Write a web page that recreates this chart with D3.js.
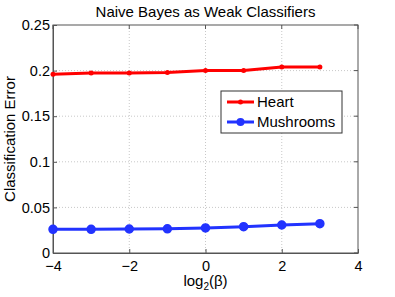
<!DOCTYPE html>
<html>
<head>
<meta charset="utf-8">
<script src="https://cdn.jsdelivr.net/npm/d3@7"></script>
<style>
body { margin: 0; background: #fff; }
text { font-family: "Liberation Sans", Arial, sans-serif; }
</style>
</head>
<body>
<div id="chart-area"></div>
<script>
var betas = [-4, -3, -2, -1, 0, 1, 2, 3];
var heart = [0.196, 0.1975, 0.1975, 0.198, 0.2, 0.2, 0.204, 0.204];
var mushrooms = [0.026, 0.026, 0.0263, 0.0265, 0.0275, 0.0289, 0.0307, 0.0322];
var xTicks = [-4, -2, 0, 2, 4];
var yTicks = [0, 0.05, 0.1, 0.15, 0.2, 0.25];

var margin = {top: 25, right: 37, bottom: 44, left: 53};
var width = 395 - margin.left - margin.right;
var height = 297 - margin.top - margin.bottom;

var svg = d3.select("#chart-area").append("svg")
	.attr("width", 395)
	.attr("height", 297);

var g = svg.append("g")
	.attr("transform", "translate(" + margin.left + ", " + margin.top + ")");

var x = d3.scaleLinear().domain([-4, 4]).range([0, width]);
var y = d3.scaleLinear().domain([0, 0.25]).range([height, 0]);

// grid
g.selectAll(".xgrid").data(xTicks.slice(1, -1)).enter().append("line")
	.attr("x1", (d) => x(d)).attr("x2", (d) => x(d))
	.attr("y1", 0).attr("y2", height)
	.attr("stroke", "#c8c8c8").attr("stroke-dasharray", "1,2");
g.selectAll(".ygrid").data(yTicks.slice(1, -1)).enter().append("line")
	.attr("x1", 0).attr("x2", width)
	.attr("y1", (d) => y(d)).attr("y2", (d) => y(d))
	.attr("stroke", "#c8c8c8").attr("stroke-dasharray", "1,2");

// box
g.append("rect")
	.attr("width", width).attr("height", height)
	.attr("fill", "none").attr("stroke", "#555").attr("stroke-width", 1);

var bottomAxis = d3.axisBottom(x).tickValues(xTicks)
	.tickFormat((d) => d < 0 ? "\u2212" + Math.abs(d) : d)
	.tickSizeInner(-4).tickSizeOuter(0).tickPadding(8);
var gx = g.append("g")
	.attr("transform", "translate(0, " + height + ")")
	.call(bottomAxis);

var leftAxis = d3.axisLeft(y).tickValues(yTicks)
	.tickFormat((d) => d3.format("")(+d.toFixed(2)))
	.tickSizeInner(-4).tickSizeOuter(0).tickPadding(3);
var gy = g.append("g").call(leftAxis);

[gx, gy].forEach((a) => {
	a.select(".domain").attr("stroke", "#555");
	a.selectAll(".tick line").attr("stroke", "#555");
	a.selectAll(".tick text").attr("font-size", "14.5px").attr("fill", "#000")
		.attr("font-family", "Liberation Sans, Arial, sans-serif");
});

// right/top ticks
g.selectAll(".rt").data(yTicks).enter().append("line")
	.attr("x1", width).attr("x2", width - 4)
	.attr("y1", (d) => y(d)).attr("y2", (d) => y(d)).attr("stroke", "#555");
g.selectAll(".tt").data(xTicks).enter().append("line")
	.attr("x1", (d) => x(d)).attr("x2", (d) => x(d))
	.attr("y1", 0).attr("y2", 4).attr("stroke", "#555");

var line = d3.line().x((d, i) => x(betas[i])).y((d) => y(d));

g.append("path").datum(heart)
	.attr("d", line).attr("fill", "none")
	.attr("stroke", "#ff0000").attr("stroke-width", 3);
g.selectAll(".hdot").data(heart).enter().append("circle")
	.attr("cx", (d, i) => x(betas[i])).attr("cy", (d) => y(d))
	.attr("r", 2.5).attr("fill", "#ff0000");

g.append("path").datum(mushrooms)
	.attr("d", line).attr("fill", "none")
	.attr("stroke", "#2233ff").attr("stroke-width", 3);
g.selectAll(".mdot").data(mushrooms).enter().append("circle")
	.attr("cx", (d, i) => x(betas[i])).attr("cy", (d) => y(d))
	.attr("r", 4).attr("fill", "#2233ff").attr("stroke", "#2233ff").attr("stroke-width", 1.5);

// legend
var lg = svg.append("g").attr("transform", "translate(221, 91)");
lg.append("rect").attr("width", 121).attr("height", 42)
	.attr("fill", "#fff").attr("stroke", "#333");
var legendItems = [{name: "Heart", color: "#ff0000", r: 2.5}, {name: "Mushrooms", color: "#2233ff", r: 4}];
legendItems.forEach((d, i) => {
	var yy = 11 + i * 20;
	lg.append("line").attr("x1", 6).attr("x2", 33).attr("y1", yy).attr("y2", yy)
		.attr("stroke", d.color).attr("stroke-width", 3);
	lg.append("circle").attr("cx", 19.5).attr("cy", yy).attr("r", d.r).attr("fill", d.color);
	lg.append("text").attr("x", 36).attr("y", yy + 5).attr("font-size", "15px").text(d.name);
});

svg.append("text")
	.attr("x", margin.left + width / 2).attr("y", 17)
	.attr("font-size", "15px").attr("text-anchor", "middle")
	.text("Naive Bayes as Weak Classifiers");

var xl = svg.append("text")
	.attr("x", margin.left + width / 2).attr("y", 286)
	.attr("font-size", "15px").attr("text-anchor", "middle");
xl.append("tspan").text("log");
xl.append("tspan").attr("font-size", "10px").attr("dy", 4).text("2");
xl.append("tspan").attr("dy", -4).text("(\u03b2)");

svg.append("text")
	.attr("transform", "translate(15, " + (margin.top + height / 2) + ") rotate(-90)")
	.attr("font-size", "15px").attr("text-anchor", "middle")
	.text("Classification Error");
</script>
</body>
</html>
